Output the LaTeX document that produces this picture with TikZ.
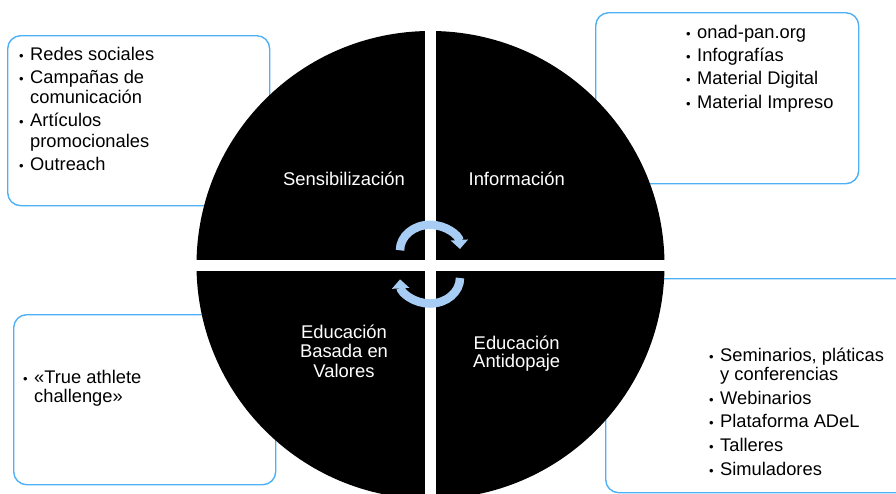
\documentclass[tikz,border=0pt]{standalone}
\usepackage{fontspec}
\setmainfont{Liberation Sans}
\usetikzlibrary{arrows.meta}
\definecolor{boxblue}{RGB}{79,177,245}
\definecolor{arrowblue}{RGB}{168,205,245}
\newcommand{\bul}{\makebox[11pt][l]{\fontsize{13}{13}\selectfont •}}
\begin{document}
\begin{tikzpicture}[x=1pt,y=1pt,
  box/.style={draw=boxblue, line width=1.4pt, rounded corners=13pt, inner sep=0pt, anchor=north west},
  lst/.style={anchor=base west, inner sep=0pt, text=black},
  lbl/.style={anchor=base, inner sep=0pt, text=white, font=\fontsize{18.4}{19.5}\selectfont},
  quad/.style={fill=black},
  cyc/.style={draw=arrowblue, line width=8.5pt, -{Triangle[width=17pt,length=9pt]}}
]
\useasboundingbox (0,0) rectangle (896,-493);
\clip (0,0) rectangle (896,-493);
% boxes
\node[box, minimum width=262pt, minimum height=170pt] (b1) at (7,-35) {};
\node[box, minimum width=263pt, minimum height=171pt] (b2) at (595,-12) {};
\node[box, minimum width=262pt, minimum height=170pt] (b3) at (13,-314) {};
\node[box, minimum width=310pt, minimum height=214pt] (b4) at (605,-278) {};
% circle of four quadrants
\coordinate (c) at (430.5,-265);
\begin{scope}
\clip (c) circle (234);
\fill[quad] (190,-20) rectangle (425,-259.5);
\fill[quad] (436,-20) rectangle (672,-259.5);
\fill[quad] (190,-270.5) rectangle (425,-510);
\fill[quad] (436,-270.5) rectangle (672,-510);
\end{scope}
% cycle arrows
\coordinate (ta) at (400,-250.3);
\coordinate (ba) at (460,-278);
\draw[cyc] (ta) arc[start angle=180, end angle=3, x radius=30, y radius=25.5];
\draw[cyc] (ba) arc[start angle=0, end angle=-177, x radius=30, y radius=25.5];
% quadrant labels
\node[lbl] (sen) at (344,-185.7) {Sensibilización};
\node[lbl] (inf) at (516.7,-185.7) {Información};
\node[lbl] (ebv) at (344,-338.3) {\begin{tabular}[t]{@{}c@{}}Educación\\Basada en\\Valores\end{tabular}};
\node[lbl, font=\fontsize{18.4}{18}\selectfont] (ead) at (516.7,-349) {\begin{tabular}[t]{@{}c@{}}Educación\\Antidopaje\end{tabular}};
% lists
\node[lst, font=\fontsize{18.3}{20.5}\selectfont] (l1) at (19,-60) {\begin{tabular}[t]{@{}l@{}l@{}}\bul&Redes sociales\\[2.5pt]
\bul&Campañas de\\ &comunicación\\[2.5pt]
\bul&Artículos\\ &promocionales\\[2.5pt]
\bul&Outreach\end{tabular}};
\node[lst, font=\fontsize{18.3}{23.2}\selectfont] (l2) at (686,-38.5) {\begin{tabular}[t]{@{}l@{}l@{}}\bul&onad-pan.org\\
\bul&Infografías\\
\bul&Material Digital\\
\bul&Material Impreso\end{tabular}};
\node[lst, font=\fontsize{18.3}{18.4}\selectfont] (l3) at (23,-383.3) {\begin{tabular}[t]{@{}l@{}l@{}}\bul&«True athlete\\ &challenge»\end{tabular}};
\node[lst, font=\fontsize{18.3}{18.3}\selectfont] (l4) at (709,-361.7) {\begin{tabular}[t]{@{}l@{}l@{}}\bul&Seminarios, pláticas\\ &y conferencias\\[5pt]
\bul&Webinarios\\[5pt]
\bul&Plataforma ADeL\\[5pt]
\bul&Talleres\\[5pt]
\bul&Simuladores\end{tabular}};
\end{tikzpicture}
\end{document}
